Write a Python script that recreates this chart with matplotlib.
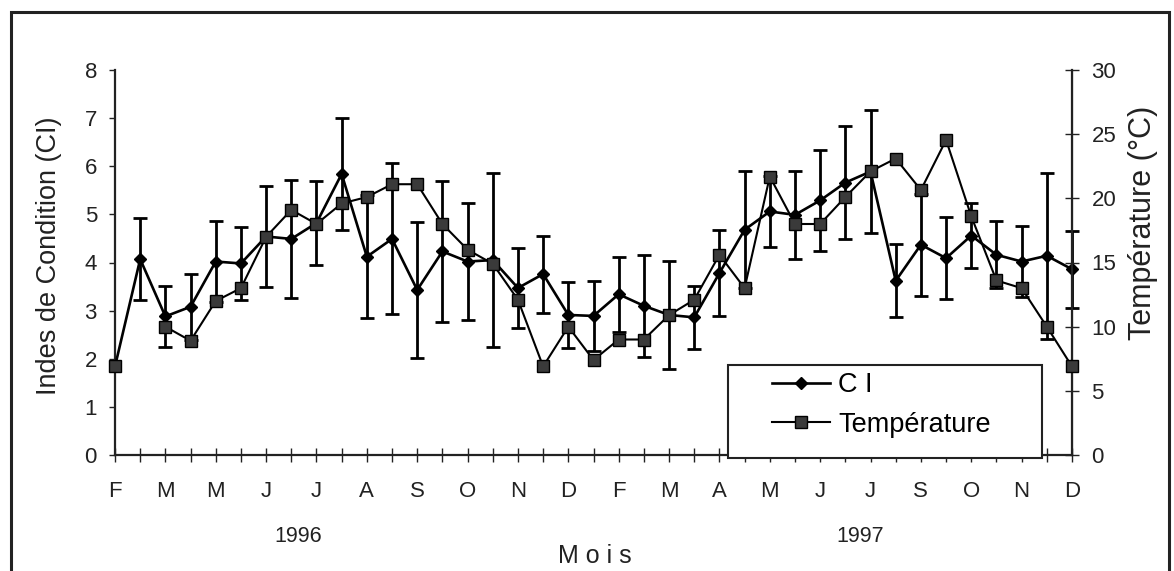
import numpy as np
import matplotlib
matplotlib.use("Agg")
import matplotlib.pyplot as plt
from matplotlib.patches import Rectangle
from matplotlib.lines import Line2D

plt.rcParams['font.family'] = ['Liberation Sans', 'DejaVu Sans']

# month labels (one label every two sampling dates)
months = ['F', 'M', 'M', 'J', 'J', 'A', 'S', 'O', 'N', 'D',
          'F', 'M', 'A', 'M', 'J', 'J', 'S', 'O', 'N', 'D']

# condition index (CI) and its error
ci = [1.84, 4.07, 2.88, 3.08, 4.02, 3.98, 4.54, 4.49, 4.82, 5.84,
      4.12, 4.49, 3.43, 4.23, 4.02, 4.05, 3.47, 3.76, 2.91, 2.89,
      3.34, 3.10, 2.91, 2.86, 3.78, 4.68, 5.06, 4.99, 5.29, 5.66,
      5.89, 3.62, 4.37, 4.09, 4.56, 4.16, 4.02, 4.14, 3.86]
ci_err = [np.nan, 0.85, 0.63, 0.68, 0.85, 0.75, 1.05, 1.23, 0.88, 1.17,
          1.28, 1.57, 1.42, 1.46, 1.21, 1.80, 0.83, 0.80, 0.68, 0.72,
          0.78, 1.06, 1.12, 0.66, 0.90, 1.22, 0.73, 0.92, 1.05, 1.17,
          1.27, 0.76, 1.06, 0.85, 0.68, 0.70, 0.74, 1.73, 0.80]

# water temperature (deg C), missing value on 2nd date
temp = [6.9, np.nan, 10.0, 8.9, 12.0, 13.0, 17.0, 19.1, 18.0, 19.6,
        20.1, 21.1, 21.1, 18.0, 16.0, 14.9, 12.1, 6.9, 10.0, 7.4,
        9.0, 9.0, 10.9, 12.1, 15.6, 13.0, 21.7, 18.0, 18.0, 20.1,
        22.1, 23.1, 20.65, 24.55, 18.6, 13.6, 13.0, 10.0, 6.9]

x = np.arange(len(ci))
tick_labels = []
for i in x:
    tick_labels.append(months[i // 2] if i % 2 == 0 else '')

fig = plt.figure(figsize=(11.74, 5.71), dpi=100)
ax = fig.add_axes([115/1174, 1-455/571, 957/1174, 385/571])
ax2 = ax.twinx()

# CI with error bars
ax.errorbar(x, ci, yerr=ci_err, color='black', lw=1.9, marker='D', ms=6.5,
            elinewidth=2.0, capsize=5, capthick=2.0, clip_on=False, zorder=3)

# temperature
ax2.plot(x, temp, color='black', lw=1.5, marker='s', ms=9,
         mfc='#3a3a3a', mec='black', mew=1.0, clip_on=False, zorder=3)

ax.set_xlim(0, len(ci) - 1)
ax.set_ylim(0, 8)
ax2.set_ylim(0, 30)
ax.set_yticks(range(0, 9))
ax2.set_yticks(range(0, 31, 5))
ax.set_xticks(x)
ax.set_xticklabels(tick_labels)

ax.spines['top'].set_visible(False)
ax2.spines['top'].set_visible(False)
for sp in ['left', 'bottom']:
    ax.spines[sp].set_linewidth(1.6)
    ax.spines[sp].set_color('#222222')
ax2.spines['right'].set_linewidth(1.6)
ax2.spines['right'].set_color('#222222')
ax2.spines['left'].set_visible(False)
ax2.spines['bottom'].set_visible(False)

ax.tick_params(axis='y', direction='out', length=4, width=1, pad=9,
               labelsize=16, colors='#222222')
ax.tick_params(axis='x', direction='inout', length=10, width=1, pad=14,
               labelsize=16, colors='#222222')
ax2.tick_params(axis='y', direction='inout', length=10, width=1, pad=9,
                labelsize=16, colors='#222222')

fig.text(49/1174, 1-256/571, 'Indes de Condition (CI)', rotation=90,
         ha='center', va='center', fontsize=19.5, color='#222222')
fig.text(1143/1174, 1-223/571, 'Température (°C)', rotation=90,
         ha='center', va='center', fontsize=22, color='#222222')
fig.text(298/1174, 1-536/571, '1996', ha='center', va='center',
         fontsize=15.5, color='#222222')
fig.text(860/1174, 1-536/571, '1997', ha='center', va='center',
         fontsize=15.5, color='#222222')
fig.text(595/1174, 1-556/571, 'M o i s', ha='center', va='center',
         fontsize=18, color='#222222')

# legend box and entries
box = Rectangle((728/1174, 1-458/571), 314/1174, 93/571,
                transform=fig.transFigure, facecolor='white',
                edgecolor='#222222', lw=1.5, zorder=5)
fig.add_artist(box)
handles = [Line2D([], [], color='black', lw=1.9, marker='D', ms=6.5),
           Line2D([], [], color='black', lw=1.5, marker='s', ms=9,
                  mfc='#3a3a3a', mec='black')]
leg = fig.legend(handles, ['C I', 'Température'], loc='upper left',
                 bbox_to_anchor=(772/1174, 1-372/571), frameon=False,
                 fontsize=19.5, handlelength=2.15, handletextpad=0.3,
                 borderpad=0, borderaxespad=0, labelspacing=0.5)
leg.set_zorder(6)

# outer frame
frame = Rectangle((11/1174, -0.05), 1158/1174, 1.05 - 12/571,
                  transform=fig.transFigure, fill=False,
                  edgecolor='#222222', lw=2.2, clip_on=False)
fig.add_artist(frame)

fig.savefig('out.png', dpi=100)
